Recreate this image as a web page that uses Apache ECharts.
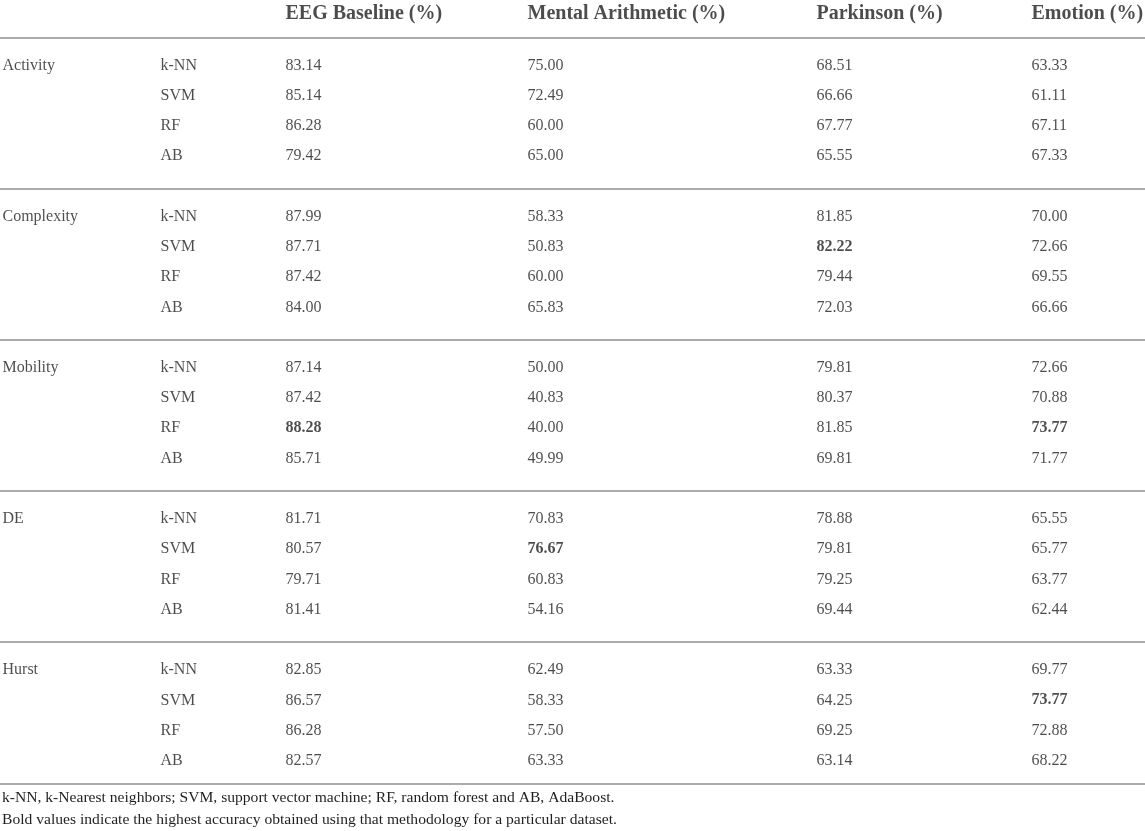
<!DOCTYPE html>
<html>
<head>
<meta charset="utf-8">
<title>Accuracy table</title>
<script src="https://cdn.jsdelivr.net/npm/echarts@6/dist/echarts.min.js"></script>
<style>
    html,body{margin:0;padding:0;background:#fff;}
    #table-chart{width:1145px;height:831px;}
</style>
</head>
<body>
<div id="table-chart"></div>
<script>
// 表格数据
const groups=['Activity','Complexity','Mobility','DE','Hurst']
const methods=['k-NN','SVM','RF','AB']
const columns=['EEG Baseline (%)','Mental Arithmetic (%)','Parkinson (%)','Emotion (%)']

// 每列 20 个值：5 个特征 x 4 个分类器
const eegBaseline=[83.14,85.14,86.28,79.42, 87.99,87.71,87.42,84.00, 87.14,87.42,88.28,85.71, 81.71,80.57,79.71,81.41, 82.85,86.57,86.28,82.57]
const mentalArithmetic=[75.00,72.49,60.00,65.00, 58.33,50.83,60.00,65.83, 50.00,40.83,40.00,49.99, 70.83,76.67,60.83,54.16, 62.49,58.33,57.50,63.33]
const parkinson=[68.51,66.66,67.77,65.55, 81.85,82.22,79.44,72.03, 79.81,80.37,81.85,69.81, 78.88,79.81,79.25,69.44, 63.33,64.25,69.25,63.14]
const emotion=[63.33,61.11,67.11,67.33, 70.00,72.66,69.55,66.66, 72.66,70.88,73.77,71.77, 65.55,65.77,63.77,62.44, 69.77,73.77,72.88,68.22]

// 加粗单元格 [特征, 分类器, 列]
const boldCells=[
    ['Complexity','SVM','Parkinson (%)'],
    ['Mobility','RF','EEG Baseline (%)'],
    ['Mobility','RF','Emotion (%)'],
    ['DE','SVM','Mental Arithmetic (%)'],
    ['Hurst','SVM','Emotion (%)'],
]

const footnotes=[
    'k-NN, k-Nearest neighbors; SVM, support vector machine; RF, random forest and AB, AdaBoost.',
    'Bold values indicate the highest accuracy obtained using that methodology for a particular dataset.'
]

window.addEventListener('DOMContentLoaded',()=>{
    const myChart=echarts.init(document.getElementById('table-chart'))

    const font='Liberation Serif'
    const textColor='#1f1f1f'
    // 列的左边位置 (像素)
    const groupX=2, methodX=160
    const valueX=[285,527,816,1031]
    const valueCols=[eegBaseline,mentalArithmetic,parkinson,emotion]

    // 行位置：每组占 5 个单位，分隔线在 5g
    const rowPos=(g,k)=>g*5+k+1

    const isBold=(g,k,c)=>boldCells.some(b=>b[0]===groups[g]&&b[1]===methods[k]&&b[2]===columns[c])

    const baseLabel={
        show:true,
        position:'right',
        distance:0,
        offset:[0,-2],
        fontFamily:font,
        fontSize:16,
        color:textColor,
        formatter:(p)=>p.data.text
    }

    const cellSeries=(data,extraLabel)=>({
        type:'scatter',
        symbolSize:1,
        itemStyle:{color:'transparent'},
        silent:true,
        label:Object.assign({},baseLabel,extraLabel||{}),
        data:data
    })

    const series=[]

    // 表头
    series.push(cellSeries(columns.map((c,i)=>({value:[valueX[i],-0.83],text:c})),{fontWeight:'bold',fontSize:20,offset:[0,2]}))

    // 特征名
    series.push(cellSeries(groups.map((g,i)=>({value:[groupX,rowPos(i,0)],text:g}))))

    // 分类器名
    const methodData=[]
    groups.forEach((g,gi)=>{
        methods.forEach((m,mi)=>{
            methodData.push({value:[methodX,rowPos(gi,mi)],text:m})
        })
    })
    series.push(cellSeries(methodData))

    // 数值列
    valueCols.forEach((col,ci)=>{
        const data=col.map((v,idx)=>{
            const gi=Math.floor(idx/methods.length)
            const mi=idx%methods.length
            const item={value:[valueX[ci],rowPos(gi,mi)],text:v.toFixed(2)}
            if(isBold(gi,mi,ci)){
                item.label={fontWeight:'bold'}
            }
            return item
        })
        series.push(cellSeries(data))
    })

    // 分隔线
    const lineYs=groups.map((g,i)=>i*5)
    lineYs.push(groups.length*5-0.29)
    series.push({
        type:'scatter',
        data:[],
        silent:true,
        markLine:{
            silent:true,
            symbol:'none',
            label:{show:false},
            lineStyle:{color:'#ababab',width:2,type:'solid'},
            data:lineYs.map(y=>({yAxis:y}))
        }
    })

    const option={
        animation:false,
        title:{
            text:footnotes.join('\n'),
            left:2,
            top:787,
            padding:0,
            textStyle:{
                fontFamily:font,
                fontSize:15.6,
                fontWeight:'normal',
                color:textColor,
                lineHeight:22
            }
        },
        grid:{left:0,right:0,top:1,height:792},
        xAxis:{type:'value',min:0,max:1145,show:false},
        yAxis:{type:'value',min:-1.2,max:25,inverse:true,show:false},
        series:series
    }

    myChart.setOption(option)

    window.addEventListener('resize',function(){
        myChart.resize()
    })
})
</script>
</body>
</html>
